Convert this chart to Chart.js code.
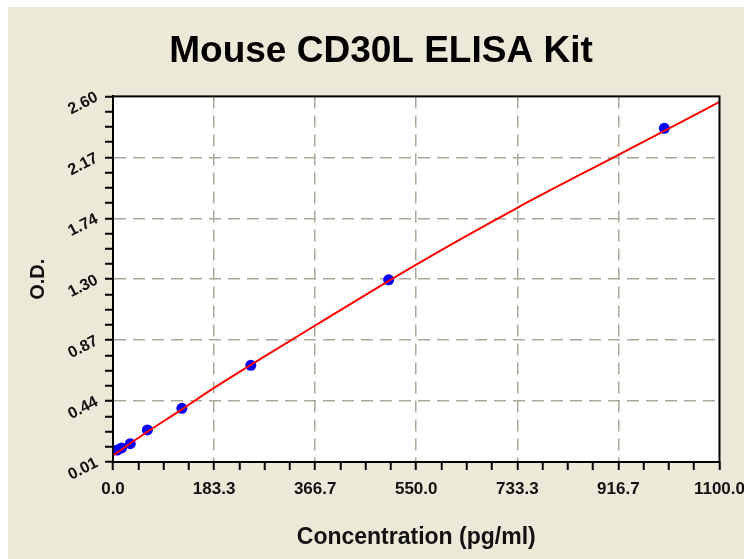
<!DOCTYPE html>
<html>
<head>
<meta charset="utf-8">
<script src="https://cdn.jsdelivr.net/npm/chart.js@4/dist/chart.umd.min.js"></script>
<style>
    body { margin: 0; background: #fff; overflow: hidden; }
    #wrap { position: absolute; left: 8px; top: 7px; }
</style>
</head>
<body>
<div id="wrap"><canvas id="myChart" width="746" height="552"></canvas></div>
<script>
// standard points (pg/ml, O.D.)
const stdConc = [7.8, 15.6, 31.25, 62.5, 125, 250, 500, 1000];
const stdOD = [0.095, 0.11, 0.14, 0.237, 0.39, 0.695, 1.301, 2.374];

// fitted curve
const fitConc = [0, 62.5, 125, 183.3, 275, 366.7, 550, 733.3, 916.7, 1100];
const fitOD = [0.057, 0.224, 0.383, 0.535, 0.758, 0.977, 1.409, 1.811, 2.186, 2.561];

const xTickLabels = ['0.0', '183.3', '366.7', '550.0', '733.3', '916.7', '1100.0'];
const yTickLabels = ['0.01', '0.44', '0.87', '1.30', '1.74', '2.17', '2.60'];

const FONT = "'Liberation Sans', Arial, sans-serif";
const MINOR = 4; // minor steps per major

function buildTicks(scale) {
    const n = (xTickLabels.length - 1) * MINOR;
    const t = [];
    for (let i = 0; i <= n; i++) {
        t.push({ value: scale.min + (scale.max - scale.min) * i / n });
    }
    scale.ticks = t;
}

function gridColor(c) {
    const last = (xTickLabels.length - 1) * MINOR;
    if (c.index % MINOR === 0 && c.index > 0 && c.index < last) return '#aca797';
    return 'rgba(0,0,0,0)';
}

const frame = {
    id: 'frame',
    beforeDraw(chart) {
        const { ctx, chartArea: a } = chart;
        ctx.save();
        ctx.fillStyle = '#ece9d8';
        ctx.fillRect(0, 0, chart.width, chart.height);
        ctx.fillStyle = '#ffffff';
        ctx.fillRect(a.left, a.top, a.right - a.left, a.bottom - a.top);
        ctx.restore();
    },
    afterDraw(chart) {
        const { ctx, chartArea: a } = chart;
        ctx.save();
        ctx.strokeStyle = '#000';
        ctx.lineWidth = 2;
        ctx.strokeRect(a.left, a.top, a.right - a.left, a.bottom - a.top);
        ctx.restore();
    }
};

const data = {
    datasets: [{
        label: 'fit',
        data: fitConc.map((x, i) => ({ x: x, y: fitOD[i] })),
        showLine: true,
        borderColor: '#ff0000',
        borderWidth: 2,
        pointRadius: 0,
        cubicInterpolationMode: 'monotone',
        order: 0
    }, {
        label: 'standards',
        data: stdConc.map((x, i) => ({ x: x, y: stdOD[i] })),
        backgroundColor: '#0000ff',
        borderColor: '#0000ff',
        pointRadius: 5.5,
        borderWidth: 0,
        order: 1
    }]
};

const config = {
    type: 'scatter',
    data: data,
    plugins: [frame],
    options: {
        responsive: false,
        animation: false,
        layout: { padding: { left: 0, right: 0, top: 0, bottom: 8 } },
        plugins: {
            legend: { display: false },
            tooltip: { enabled: false },
            title: {
                display: true,
                text: 'Mouse CD30L ELISA Kit',
                color: '#000',
                font: { family: FONT, size: 37, weight: 'bold' },
                padding: { top: 23, bottom: 22 }
            }
        },
        scales: {
            x: {
                type: 'linear',
                min: 0,
                max: 1100,
                afterBuildTicks: buildTicks,
                ticks: {
                    autoSkip: false,
                    maxRotation: 0,
                    padding: 9,
                    color: '#111',
                    font: { family: FONT, size: 17, weight: 'bold' },
                    callback: (v, i) => i % MINOR === 0 ? xTickLabels[i / MINOR] : ''
                },
                grid: {
                    color: gridColor,
                    lineWidth: 1.5,
                    tickColor: '#000',
                    tickLength: 8,
                    tickWidth: 2
                },
                border: { color: '#000', width: 2, dash: [12, 7] },
                title: {
                    display: true,
                    text: 'Concentration (pg/ml)',
                    color: '#111',
                    font: { family: FONT, size: 23, weight: 'bold' },
                    padding: { top: 15, bottom: 0 }
                }
            },
            y: {
                type: 'linear',
                min: 0.01,
                max: 2.60,
                afterBuildTicks: buildTicks,
                afterFit: (scale) => { scale.width = 105; },
                ticks: {
                    autoSkip: false,
                    minRotation: 27,
                    maxRotation: 27,
                    padding: 8,
                    color: '#111',
                    font: { family: FONT, size: 16, weight: 'bold' },
                    callback: (v, i) => i % MINOR === 0 ? yTickLabels[i / MINOR] : ''
                },
                grid: {
                    color: gridColor,
                    lineWidth: 1.5,
                    tickColor: '#000',
                    tickLength: 8,
                    tickWidth: 2
                },
                border: { color: '#000', width: 2, dash: [12, 7] },
                title: {
                    display: true,
                    text: 'O.D.',
                    color: '#111',
                    font: { family: FONT, size: 20, weight: 'bold' },
                    padding: { top: 18, bottom: 0 }
                }
            }
        }
    }
};

const myChart = new Chart(document.getElementById('myChart'), config);
</script>
</body>
</html>
